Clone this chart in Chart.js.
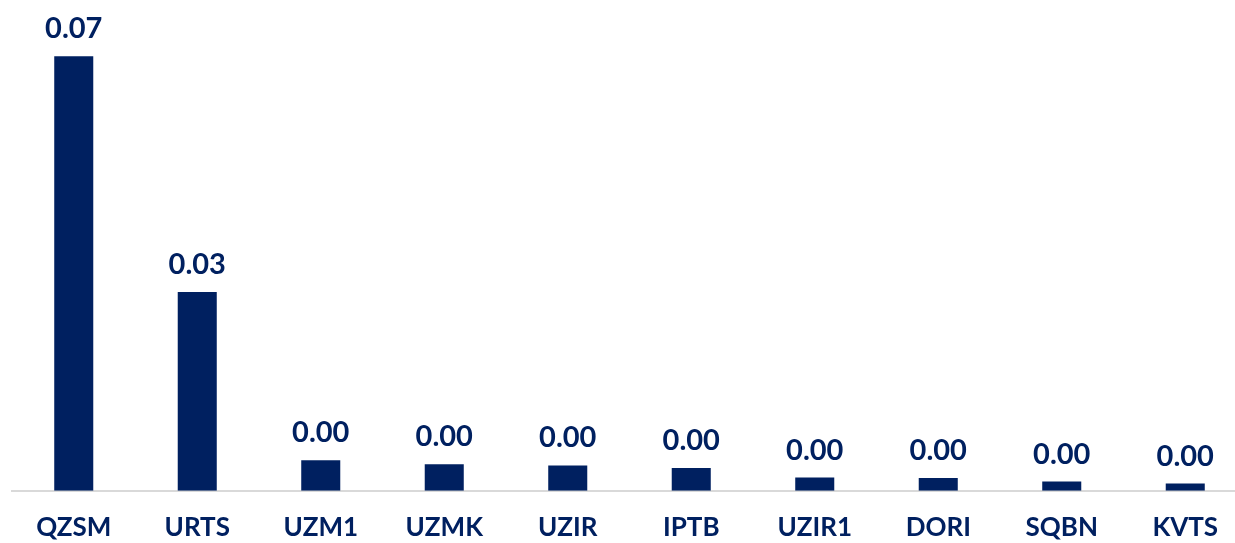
<!DOCTYPE html>
<html>
<head>
<meta charset="utf-8">
<script src="https://cdn.jsdelivr.net/npm/chart.js@4"></script>
<style>
  html, body { margin: 0; padding: 0; background: #ffffff; overflow: hidden; }
  #wrap { width: 1247px; height: 543px; }
</style>
</head>
<body>
<div id="wrap"><canvas id="c" width="1247" height="543"></canvas></div>
<script>
const categories = ["QZSM", "URTS", "UZM1", "UZMK", "UZIR", "IPTB", "UZIR1", "DORI", "SQBN", "KVTS"];
const values = [0.068, 0.0311, 0.0048, 0.00417, 0.00396, 0.00355, 0.00208, 0.00199, 0.00145, 0.00114];

const navy = "#002060";
const fontFamily = "Lato, 'DejaVu Sans', sans-serif";

const valueLabels = {
  id: "valueLabels",
  afterDatasetsDraw(chart) {
    const ctx = chart.ctx;
    const meta = chart.getDatasetMeta(0);
    ctx.save();
    ctx.fillStyle = navy;
    ctx.font = "bold 29px " + fontFamily;
    ctx.textAlign = "center";
    ctx.textBaseline = "alphabetic";
    meta.data.forEach((bar, i) => {
      ctx.fillText(values[i].toFixed(2), bar.x, bar.y - 18);
    });
    ctx.restore();
  }
};

new Chart(document.getElementById("c"), {
  type: "bar",
  data: {
    labels: categories,
    datasets: [{
      data: values,
      backgroundColor: navy,
      borderWidth: 0,
      barPercentage: 0.316,
      categoryPercentage: 1.0
    }]
  },
  options: {
    responsive: false,
    animation: false,
    layout: { padding: { left: 12, right: 0, top: 0, bottom: -21 } },
    plugins: { legend: { display: false }, tooltip: { enabled: false } },
    scales: {
      x: {
        grid: { display: false, drawTicks: false },
        border: { display: true, color: "#d9d9d9", width: 2 },
        ticks: {
          color: navy,
          padding: 21,
          font: { family: fontFamily, size: 26, weight: "bold", lineHeight: 1.2 }
        }
      },
      y: {
        display: false,
        min: 0,
        max: 0.0768
      }
    }
  },
  plugins: [valueLabels]
});
</script>
</body>
</html>
